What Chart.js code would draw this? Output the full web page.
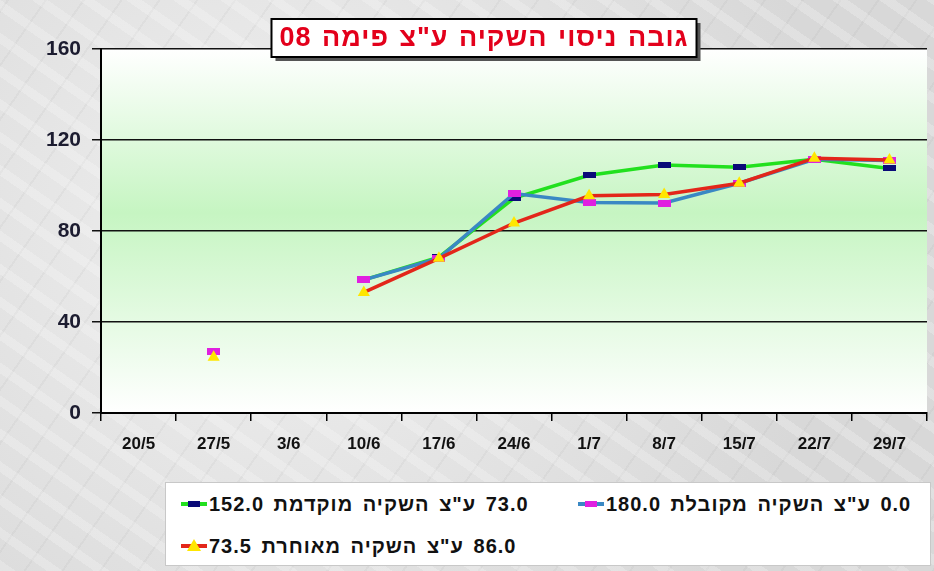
<!DOCTYPE html>
<html>
<head>
<meta charset="utf-8">
<script src="https://cdn.jsdelivr.net/npm/chart.js@4.4.1/dist/chart.umd.min.js"></script>
<style>
  html, body { margin: 0; padding: 0; }
  #wrap {
    position: relative; width: 934px; height: 571px; overflow: hidden;
    background-color: #e4e4e4;
    background-image:
      repeating-linear-gradient(35deg, rgba(255,255,255,0.22) 0 9px, rgba(0,0,0,0) 9px 27px),
      repeating-linear-gradient(-55deg, rgba(110,110,110,0.06) 0 2px, rgba(0,0,0,0) 2px 31px),
      radial-gradient(circle at 30% 40%, #f0f0f0, #d8d8d8 75%);
  }
  #chart { position: absolute; left: 0; top: 0; }
  #legend {
    position: absolute; left: 165px; top: 482px; width: 766px; height: 84px;
    background: #fff; border: 1px solid #c8c8c8; box-sizing: border-box;
    padding: 0 0 0 15px; display: flex; flex-wrap: wrap; align-content: flex-start;
    font: bold 20px "Liberation Sans", Arial, sans-serif; color: #111;
    letter-spacing: 1px; word-spacing: 3px;
  }
  .item { height: 42px; display: flex; align-items: center; }
  .item:nth-child(1) { width: 397px; }
  .item:nth-child(3) { flex-basis: 100%; }
  .mark { position: relative; width: 26px; height: 20px; flex: none; }
  .mark .ln { position: absolute; left: 0; right: 0; top: 8px; height: 4px; }
  .mark .pt { position: absolute; left: 7px; top: 7px; width: 12px; height: 6px; }
  .mark .tri { position: absolute; left: 6px; top: 3px; width: 0; height: 0;
    border-left: 7px solid transparent; border-right: 7px solid transparent; border-bottom: 12px solid #ffe600; }
  .txt { direction: rtl; unicode-bidi: isolate; white-space: nowrap; margin-left: 2px; }
</style>
</head>
<body>
<div id="wrap">
  <canvas id="chart" width="934" height="571"></canvas>
  <div id="legend"></div>
</div>
<script>
const titleText = 'גובה ניסוי השקיה ע"צ פימה 08';
const dates = ['20/5', '27/5', '3/6', '10/6', '17/6', '24/6', '1/7', '8/7', '15/7', '22/7', '29/7'];
const yTicks = [0, 40, 80, 120, 160];

const earlyLabel = '73.0 ע"צ השקיה מוקדמת 152.0';
const regularLabel = '0.0 ע"צ השקיה מקובלת 180.0';
const lateLabel = '86.0 ע"צ השקיה מאוחרת 73.5';

const earlyValues   = [null, 27, null, 58.5, 68.5, 94.5, 104.5, 109, 108, 111.5, 107.5];
const regularValues = [null, 27, null, 58.5, 68, 96.5, 92.5, 92.3, 101, 111.5, 111];
const lateValues    = [null, 24.5, null, 53, 68, 83.5, 95.5, 96, 101, 112, 111.2];

function dash(color, w, h) {
  const c = document.createElement('canvas');
  c.width = w; c.height = h;
  const g = c.getContext('2d');
  g.fillStyle = color;
  g.fillRect(0, 0, w, h);
  return c;
}

const plotBg = {
  id: 'plotBg',
  beforeDraw(chart) {
    const { ctx, chartArea: a } = chart;
    const grad = ctx.createLinearGradient(0, a.top, 0, a.bottom);
    grad.addColorStop(0, '#ffffff');
    grad.addColorStop(0.45, '#c6f5c2');
    grad.addColorStop(1, '#ffffff');
    ctx.save();
    ctx.fillStyle = grad;
    ctx.fillRect(a.left, a.top, a.right - a.left, a.bottom - a.top);
    ctx.restore();
  }
};

const titleBox = {
  id: 'titleBox',
  afterDraw(chart) {
    const ctx = chart.ctx;
    ctx.save();
    ctx.font = 'bold 27px "Liberation Sans", Arial, sans-serif';
    ctx.direction = 'rtl';
    ctx.letterSpacing = '1px';
    ctx.wordSpacing = '2px';
    const w = ctx.measureText(titleText).width + 16;
    const cx = 484, top = 19, h = 38;
    ctx.fillStyle = '#555';
    ctx.fillRect(cx - w / 2 + 4, top + 4, w, h);
    ctx.fillStyle = '#fff';
    ctx.fillRect(cx - w / 2, top, w, h);
    ctx.strokeStyle = '#000';
    ctx.lineWidth = 2;
    ctx.strokeRect(cx - w / 2, top, w, h);
    ctx.fillStyle = '#e3001b';
    ctx.textAlign = 'center';
    ctx.textBaseline = 'middle';
    ctx.fillText(titleText, cx, top + h / 2 + 1);
    ctx.restore();
  }
};

const htmlLegend = {
  id: 'htmlLegend',
  afterUpdate(chart) {
    const box = document.getElementById('legend');
    box.innerHTML = '';
    chart.data.datasets.slice().sort((a, b) => a.legendOrder - b.legendOrder).forEach(ds => {
      const item = document.createElement('div');
      item.className = 'item';
      const mark = document.createElement('span');
      mark.className = 'mark';
      const ln = document.createElement('span');
      ln.className = 'ln';
      ln.style.background = ds.borderColor;
      mark.appendChild(ln);
      const pt = document.createElement('span');
      if (ds.pointStyle === 'triangle') {
        pt.className = 'tri';
      } else {
        pt.className = 'pt';
        pt.style.background = ds.pointBackgroundColor;
      }
      mark.appendChild(pt);
      const txt = document.createElement('span');
      txt.className = 'txt';
      txt.textContent = ds.label;
      item.appendChild(mark);
      item.appendChild(txt);
      box.appendChild(item);
    });
  }
};

new Chart(document.getElementById('chart'), {
  type: 'line',
  data: {
    labels: dates,
    datasets: [
      {
        label: earlyLabel,
        data: earlyValues,
        borderColor: '#22e01e',
        pointBackgroundColor: '#0a0a78',
        pointStyle: dash('#0a0a78', 13, 6),
        legendOrder: 0,
        order: 2
      },
      {
        label: regularLabel,
        data: regularValues,
        borderColor: '#3a88c4',
        pointBackgroundColor: '#e020e0',
        pointStyle: dash('#e020e0', 13, 7),
        legendOrder: 1,
        order: 1
      },
      {
        label: lateLabel,
        data: lateValues,
        borderColor: '#e3261a',
        pointBackgroundColor: '#ffe600',
        pointBorderColor: '#ffe600',
        pointStyle: 'triangle',
        pointRadius: 7,
        legendOrder: 2,
        order: 0
      }
    ]
  },
  options: {
    responsive: false,
    animation: false,
    devicePixelRatio: 1,
    spanGaps: false,
    layout: { padding: { top: 49, right: 3, left: 0, bottom: 0 } },
    elements: {
      line: { borderWidth: 3.5, tension: 0 },
      point: { radius: 6, borderWidth: 0 }
    },
    plugins: {
      legend: { display: false },
      tooltip: { enabled: false }
    },
    scales: {
      x: {
        offset: true,
        grid: { offset: true, drawOnChartArea: false, color: '#000', lineWidth: 1.5, tickLength: 8 },
        border: { color: '#000', width: 2 },
        ticks: {
          padding: 13,
          color: '#111',
          maxRotation: 0,
          font: { family: '"Liberation Sans Narrow", "Liberation Sans", Arial', size: 17, weight: 'bold' }
        },
        afterFit(scale) { scale.height = 158; }
      },
      y: {
        min: 0,
        max: 160,
        afterBuildTicks(scale) { scale.ticks = yTicks.map(v => ({ value: v })); },
        grid: { color: '#111', lineWidth: 1.5, tickLength: 9 },
        border: { color: '#000', width: 2 },
        ticks: {
          padding: 11,
          color: '#1c1c30',
          font: { family: '"Liberation Sans", Arial', size: 21, weight: 'bold' }
        },
        afterFit(scale) { scale.width = 101; }
      }
    }
  },
  plugins: [plotBg, titleBox, htmlLegend]
});
</script>
</body>
</html>
